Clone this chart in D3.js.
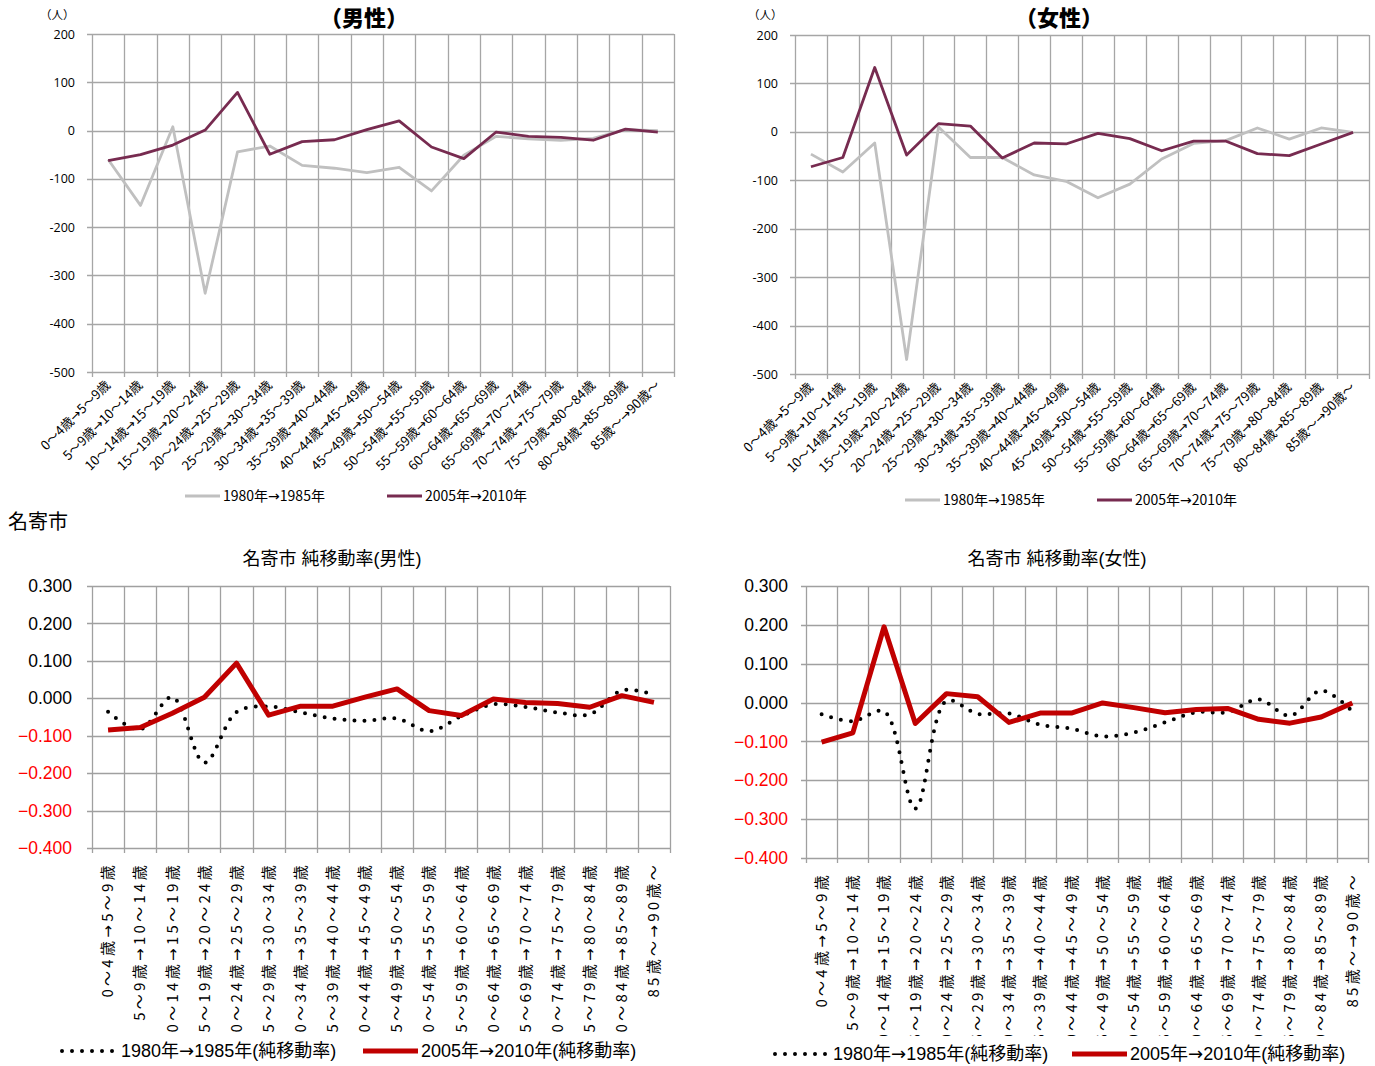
<!DOCTYPE html>
<html>
<head>
<meta charset="utf-8">
<script src="https://cdn.jsdelivr.net/npm/d3@7"></script>
<style>
  body { margin: 0; background: #fff; }
  svg { display: block; }
</style>
</head>
<body>
<svg id="chart" width="1375" height="1066"></svg>
<script>
// age cohort transitions (x categories)
const ageGroups = [
  "0～4歳→5～9歳", "5～9歳→10～14歳", "10～14歳→15～19歳", "15～19歳→20～24歳",
  "20～24歳→25～29歳", "25～29歳→30～34歳", "30～34歳→35～39歳", "35～39歳→40～44歳",
  "40～44歳→45～49歳", "45～49歳→50～54歳", "50～54歳→55～59歳", "55～59歳→60～64歳",
  "60～64歳→65～69歳", "65～69歳→70～74歳", "70～74歳→75～79歳", "75～79歳→80～84歳",
  "80～84歳→85～89歳", "85歳～→90歳～"
];

// net migration, persons
const male1980 = [-60, -155, 8, -337, -44, -32, -72, -78, -87, -76, -125, -51, -12, -17, -20, -16, 2, 0];
const male2005 = [-62, -50, -30, 1, 79, -49, -23, -19, 2, 20, -34, -58, -3, -12, -14, -20, 3, -3];
const female1980 = [-46, -83, -23, -470, 10, -53, -53, -89, -102, -136, -108, -56, -24, -18, 8, -15, 8, -1];
const female2005 = [-72, -53, 133, -48, 17, 12, -54, -23, -25, -3, -14, -39, -19, -19, -45, -49, -25, -1];

// net migration rate
const maleRate1980 = [-0.036, -0.083, 0.003, -0.172, -0.037, -0.022, -0.038, -0.054, -0.060, -0.054, -0.088, -0.048, -0.016, -0.023, -0.038, -0.043, 0.021, 0.010];
const maleRate2005 = [-0.085, -0.078, -0.040, 0.003, 0.094, -0.045, -0.021, -0.021, 0.003, 0.025, -0.033, -0.046, -0.002, -0.011, -0.014, -0.024, 0.007, -0.011];
const femaleRate1980 = [-0.030, -0.048, -0.023, -0.273, 0.004, -0.029, -0.028, -0.057, -0.067, -0.087, -0.077, -0.051, -0.025, -0.025, 0.008, -0.034, 0.031, -0.023];
const femaleRate2005 = [-0.102, -0.078, 0.195, -0.054, 0.023, 0.015, -0.051, -0.027, -0.027, -0.001, -0.013, -0.026, -0.018, -0.015, -0.043, -0.053, -0.037, -0.001];

const countLegend = ["1980年→1985年", "2005年→2010年"];
const rateLegend = ["1980年→1985年(純移動率)", "2005年→2010年(純移動率)"];

const svg = d3.select("#chart");
const jpFont = '"Noto Sans CJK JP", sans-serif';
const topFont = '"Open Sans", "Noto Sans CJK JP", sans-serif';
const arialFont = '"Liberation Sans", "Noto Sans CJK JP", sans-serif';
const arrowFont = '"DejaVu Sans", sans-serif';

const GRAY = "#c0c0c0", PURPLE = "#772b50", RED = "#c00000";

// put the arrow of a label in its own tspan so it gets a proper glyph
function arrowText(textSel, str) {
  textSel.text(null);
  str.split("→").forEach((part, i) => {
    if (i > 0) textSel.append("tspan").attr("font-family", arrowFont).text("→");
    textSel.append("tspan").text(part);
  });
}

function drawPanel(p) {
  const g = svg.append("g");
  const x = d3.scaleBand().domain(ageGroups).range([p.left, p.right]);
  const y = d3.scaleLinear().domain(p.domain).range([p.bottom, p.top]);
  const cx = i => x(ageGroups[i]) + x.bandwidth() / 2;
  const px = v => Math.round(v) + 0.5;

  // grid, with small outside tick marks
  g.append("g").selectAll("line").data(y.ticks(7)).join("line")
    .attr("x1", p.left - 5).attr("x2", p.right)
    .attr("y1", d => px(y(d))).attr("y2", d => px(y(d)))
    .attr("stroke", p.grid).attr("stroke-width", 1.3);
  g.append("g").selectAll("line").data(ageGroups.map(d => x(d)).concat([p.right])).join("line")
    .attr("x1", d => px(d)).attr("x2", d => px(d))
    .attr("y1", p.top).attr("y2", p.bottom + 5)
    .attr("stroke", p.grid).attr("stroke-width", 1.3);

  // y axis
  const yAxis = d3.axisLeft(y).ticks(7).tickSize(0).tickPadding(p.yPad).tickFormat(p.fmt);
  g.append("g").attr("transform", `translate(${p.left},0)`).call(yAxis)
    .call(a => a.select(".domain").remove())
    .attr("font-family", p.yFont).attr("font-size", p.ySize)
    .selectAll("text").attr("fill", d => (p.negRed && d < 0) ? "#ff0000" : "#000");

  // x axis labels
  const xAxis = d3.axisBottom(x).tickSize(0).tickPadding(0);
  const xg = g.append("g").attr("transform", `translate(0,${p.bottom})`).call(xAxis)
    .call(a => a.select(".domain").remove())
    .attr("font-family", p.xFont).attr("font-size", p.xSize);
  xg.selectAll("text").each(function(d) { arrowText(d3.select(this), d); });
  if (p.rotate === 45) {
    xg.selectAll("text").attr("y", 0).attr("dy", 0)
      .attr("text-anchor", "end")
      .attr("transform", "translate(3,14) rotate(-45)");
  } else {
    const clipId = "clip" + p.left + "_" + p.top;
    svg.append("clipPath").attr("id", clipId).append("rect")
      .attr("x", p.left - 20).attr("y", 0).attr("width", p.right - p.left + 40)
      .attr("height", p.clipBottom - p.bottom);
    xg.attr("clip-path", `url(#${clipId})`);
    xg.selectAll("text").attr("y", 0).attr("dy", "0.35em")
      .attr("x", -14).attr("text-anchor", "end")
      .attr("letter-spacing", p.xSpacing)
      .attr("transform", "rotate(-90)");
  }

  // series
  p.series.forEach(s => {
    const line = d3.line().x((d, i) => cx(i)).y(d => y(d))
      .curve(s.smooth ? d3.curveCatmullRom : d3.curveLinear);
    g.append("path").datum(s.values).attr("d", line)
      .attr("fill", "none").attr("stroke", s.color).attr("stroke-width", s.width)
      .attr("stroke-linejoin", "round").attr("stroke-linecap", s.dots ? "round" : "butt")
      .attr("stroke-dasharray", s.dots ? "0 10" : null);
  });

  // titles
  g.append("text").attr("x", p.titleX).attr("y", p.titleY).attr("text-anchor", "middle")
    .attr("font-family", p.titleFont).attr("font-size", p.titleSize)
    .attr("font-weight", p.titleBold ? 900 : "normal").text(p.title);
  if (p.unit) {
    g.append("text").attr("x", p.unit[0]).attr("y", p.unit[1])
      .attr("font-family", jpFont).attr("font-size", 11.5).text("（人）");
  }

  // legend
  const lg = g.append("g").attr("font-family", p.legendFont).attr("font-size", p.legendSize);
  p.series.forEach((s, i) => {
    const L = p.legend[i];
    lg.append("line").attr("x1", L.x).attr("x2", L.x + L.w).attr("y1", p.legendY).attr("y2", p.legendY)
      .attr("stroke", s.color).attr("stroke-width", s.width)
      .attr("stroke-linecap", s.dots ? "round" : "butt")
      .attr("stroke-dasharray", s.dots ? "0 10" : null);
    lg.append("text").attr("x", L.x + L.w + 3).attr("y", p.legendY).attr("dy", "0.35em")
      .call(t => arrowText(t, s.name));
  });
}

const intFmt = d => String(d);
const rateFmt = d3.format(".3f");

drawPanel({
  left: 92, right: 674, top: 34, bottom: 372, domain: [-500, 200], grid: "#a6a6a6",
  fmt: intFmt, yPad: 17, yFont: topFont, ySize: 12.5, xFont: jpFont, xSize: 13, rotate: 45,
  title: "（男性）", titleX: 364, titleY: 26, titleSize: 22, titleBold: true, titleFont: jpFont, unit: [40, 19],
  legendY: 496, legendFont: jpFont, legendSize: 14, legend: [{x: 185, w: 35}, {x: 387, w: 35}],
  series: [
    {name: countLegend[0], values: male1980, color: GRAY, width: 2.8},
    {name: countLegend[1], values: male2005, color: PURPLE, width: 2.8}
  ]
});

drawPanel({
  left: 795, right: 1369, top: 35, bottom: 374, domain: [-500, 200], grid: "#a6a6a6",
  fmt: intFmt, yPad: 17, yFont: topFont, ySize: 12.5, xFont: jpFont, xSize: 13, rotate: 45,
  title: "（女性）", titleX: 1059, titleY: 26, titleSize: 22, titleBold: true, titleFont: jpFont, unit: [748, 19],
  legendY: 500, legendFont: jpFont, legendSize: 14, legend: [{x: 905, w: 35}, {x: 1097, w: 35}],
  series: [
    {name: countLegend[0], values: female1980, color: GRAY, width: 2.8},
    {name: countLegend[1], values: female2005, color: PURPLE, width: 2.8}
  ]
});

svg.append("text").attr("x", 8).attr("y", 529).attr("font-family", jpFont).attr("font-size", 20).text("名寄市");

drawPanel({
  left: 92, right: 670, top: 586, bottom: 848, domain: [-0.4, 0.3], grid: "#a0a0a0",
  fmt: rateFmt, yPad: 20, yFont: arialFont, ySize: 17.5, negRed: true,
  xFont: jpFont, xSize: 15, xSpacing: 3.3, rotate: 90, clipBottom: 1032,
  title: "名寄市 純移動率(男性)", titleX: 332, titleY: 565, titleSize: 18, titleBold: false, titleFont: arialFont,
  legendY: 1051, legendFont: arialFont, legendSize: 18, legend: [{x: 62, w: 56}, {x: 363, w: 55}],
  series: [
    {name: rateLegend[0], values: maleRate1980, color: "#000", width: 4, dots: true, smooth: true},
    {name: rateLegend[1], values: maleRate2005, color: RED, width: 5}
  ]
});

drawPanel({
  left: 806, right: 1368, top: 586, bottom: 858, domain: [-0.4, 0.3], grid: "#a0a0a0",
  fmt: rateFmt, yPad: 18, yFont: arialFont, ySize: 17.5, negRed: true,
  xFont: jpFont, xSize: 15, xSpacing: 3.3, rotate: 90, clipBottom: 1036,
  title: "名寄市 純移動率(女性)", titleX: 1057, titleY: 565, titleSize: 18, titleBold: false, titleFont: arialFont,
  legendY: 1054, legendFont: arialFont, legendSize: 18, legend: [{x: 775, w: 55}, {x: 1072, w: 55}],
  series: [
    {name: rateLegend[0], values: femaleRate1980, color: "#000", width: 4, dots: true, smooth: true},
    {name: rateLegend[1], values: femaleRate2005, color: RED, width: 5}
  ]
});
</script>
</body>
</html>
